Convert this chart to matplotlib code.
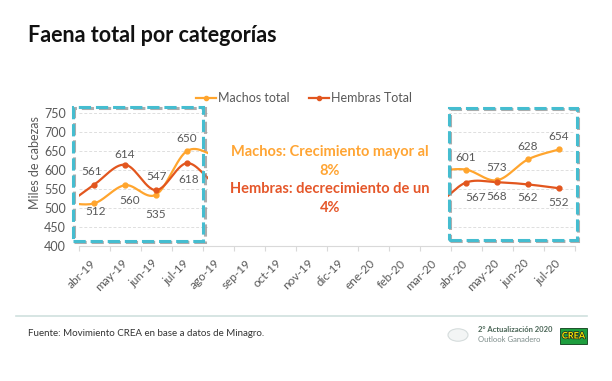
import numpy as np
import matplotlib
matplotlib.use("Agg")
import matplotlib.pyplot as plt
from matplotlib.patches import Rectangle, Circle
from matplotlib.lines import Line2D
import matplotlib.patheffects as pe

plt.rcParams['font.family'] = ['Lato', 'DejaVu Sans']

months = ['abr-19', 'may-19', 'jun-19', 'jul-19', 'ago-19', 'sep-19', 'oct-19', 'nov-19',
          'dic-19', 'ene-20', 'feb-20', 'mar-20', 'abr-20', 'may-20', 'jun-20', 'jul-20']

# visible values (the rest of the year is hidden behind the text box)
machos_19 = [512, 560, 535, 650]      # abr-19 .. jul-19
hembras_19 = [561, 614, 547, 618]
machos_20 = [601, 573, 628, 654]      # abr-20 .. jul-20
hembras_20 = [567, 568, 562, 552]

# estimated neighbours behind the mask (only shape the curve ends)
machos_mar19, machos_ago19, machos_sep19 = 516, 635, 620
hembras_mar19, hembras_ago19, hembras_sep19 = 502, 560, 570
machos_feb20, machos_mar20 = 598, 598
hembras_feb20, hembras_mar20 = 509, 509

ORANGE = '#FFA52E'
RED = '#E2561E'
GREY = '#595959'
CYAN = '#45BDD0'


def smooth(xs, ys, n=30):
    # excel-like smoothed line (catmull-rom as bezier)
    xs = np.asarray(xs, float)
    ys = np.asarray(ys, float)
    px, py = [], []
    m = len(xs)
    for i in range(m - 1):
        i0 = max(i - 1, 0)
        i3 = min(i + 2, m - 1)
        p0 = np.array([xs[i0], ys[i0]])
        p1 = np.array([xs[i], ys[i]])
        p2 = np.array([xs[i + 1], ys[i + 1]])
        p3 = np.array([xs[i3], ys[i3]])
        c1 = p1 + (p2 - p0) / 6
        c2 = p2 - (p3 - p1) / 6
        t = np.linspace(0, 1, n)[:, None]
        b = ((1 - t) ** 3) * p1 + 3 * ((1 - t) ** 2) * t * c1 + 3 * (1 - t) * t ** 2 * c2 + t ** 3 * p2
        px.extend(b[:, 0])
        py.extend(b[:, 1])
    return px, py


W, H = 612, 381
fig = plt.figure(figsize=(W / 100, H / 100), dpi=100)
fig.patch.set_facecolor('white')

ax = fig.add_axes([78.5 / W, 1 - 246 / H, 496 / W, 133 / H])
ax.set_xlim(-0.5, 15.5)
ax.set_ylim(400, 750)

x19 = np.arange(-1, 6)
x20 = np.arange(10, 16)
series = [
    (ORANGE, [machos_mar19] + machos_19 + [machos_ago19, machos_sep19], [machos_feb20, machos_mar20] + machos_20),
    (RED, [hembras_mar19] + hembras_19 + [hembras_ago19, hembras_sep19], [hembras_feb20, hembras_mar20] + hembras_20),
]
for col, left, right in series:
    sx, sy = smooth(x19, left)
    ax.plot(sx, sy, color=col, lw=1.6, zorder=2, solid_capstyle='round')
    sx, sy = smooth(x20, right)
    ax.plot(sx, sy, color=col, lw=1.6, zorder=2, solid_capstyle='round')

ax.plot(range(0, 4), machos_19, 'o', color=ORANGE, ms=3.5, zorder=2)
ax.plot(range(12, 16), machos_20, 'o', color=ORANGE, ms=3.5, zorder=2)
ax.plot(range(0, 4), hembras_19, 'o', color=RED, ms=3.5, zorder=2)
ax.plot(range(12, 16), hembras_20, 'o', color=RED, ms=3.5, zorder=2)

# white text box hiding the middle months
ax.add_patch(Rectangle((3.68, 402), 11.42 - 3.68, 400, facecolor='white', edgecolor='none', zorder=3))

# data labels, offsets in points
m_off = [(1, -6), (3, -11), (0, -14), (0, 9), (0, 9), (0, 9.5), (0, 9), (0, 9.5)]
h_off = [(-1.5, 9.5), (0, 7), (0.5, 10), (1, -11.5), (7, -10.5), (0, -10), (0, -9.5), (0, -10)]
for xs, vals, offs in [(range(0, 4), machos_19, m_off[:4]), (range(12, 16), machos_20, m_off[4:]),
                       (range(0, 4), hembras_19, h_off[:4]), (range(12, 16), hembras_20, h_off[4:])]:
    for x, v, o in zip(xs, vals, offs):
        ax.annotate(str(v), (x, v), xytext=o, textcoords='offset points', ha='center', va='center',
                    fontsize=8.5, color=GREY, zorder=6)

# dashed highlight boxes
for x0, x1, y0, y1 in [(-0.68, 3.52, 413, 766), (11.45, 15.58, 416, 763)]:
    r = Rectangle((x0, y0), x1 - x0, y1 - y0, fill=False, edgecolor=CYAN, lw=2.2,
                  linestyle=(0, (4, 1.6)), clip_on=False, zorder=5)
    r.set_path_effects([pe.SimpleLineShadow(offset=(1, -1), shadow_color='#8a8a8a', alpha=0.7), pe.Normal()])
    ax.add_patch(r)

ax.set_yticks(range(400, 751, 50))
ax.set_xticks(range(len(months)))
ax.set_xticklabels(months, rotation=45, ha='right', va='center', rotation_mode='anchor')
ax.set_xticks(np.arange(-0.5, 16, 1), minor=True)
ax.tick_params(axis='x', which='major', length=0, pad=11, labelsize=8.5, labelcolor=GREY)
ax.tick_params(axis='x', which='minor', length=3.5, color='#d9d9d9', width=0.8)
ax.tick_params(axis='y', length=0, pad=9, labelsize=9, labelcolor=GREY)
for y in range(450, 751, 50):
    ax.axhline(y, color='#dedede', lw=0.7, linestyle=(0, (3, 2)), zorder=1)
for s in ['top', 'right', 'left']:
    ax.spines[s].set_visible(False)
ax.spines['bottom'].set_color('#d9d9d9')
ax.spines['bottom'].set_linewidth(0.8)

fig.text(35 / W, 1 - 163 / H, 'Miles de cabezas', rotation=90, ha='center', va='center',
         fontsize=9, color=GREY)

handles = [Line2D([], [], color=ORANGE, lw=1.6, marker='o', ms=3),
           Line2D([], [], color=RED, lw=1.6, marker='o', ms=3)]
fig.legend(handles, ['Machos total', 'Hembras Total'], loc='center', bbox_to_anchor=(304 / W, 1 - 98 / H),
           ncol=2, frameon=False, fontsize=9, handlelength=1.6, handletextpad=0.2, columnspacing=1.5,
           labelcolor=GREY)

# annotation text in the middle
fig.text(330 / W, 1 - 152 / H, 'Machos: Crecimiento mayor al', ha='center', va='center',
         fontsize=10.5, weight='bold', color='#FFA534')
fig.text(330 / W, 1 - 171 / H, '8%', ha='center', va='center', fontsize=10.5, weight='bold', color='#FFA534')
fig.text(330 / W, 1 - 189 / H, 'Hembras: decrecimiento de un', ha='center', va='center',
         fontsize=10.5, weight='bold', color='#E5572A')
fig.text(330 / W, 1 - 208 / H, '4%', ha='center', va='center', fontsize=10.5, weight='bold', color='#E5572A')

# title
fig.text(28 / W, 1 - 35 / H, 'Faena total por categorías', ha='left', va='center',
         fontsize=15.5, weight='bold', color='#111111')

# footer
fig.add_artist(Line2D([16 / W, 587 / W], [1 - 316 / H, 1 - 316 / H], color='#cfe0de', lw=1.2,
                      transform=fig.transFigure))
fig.text(28 / W, 1 - 333 / H, 'Fuente: Movimiento CREA en base a datos de Minagro.', ha='left', va='center',
         fontsize=7, color='#333333')
fig.add_artist(Circle((458 / W, 1 - 335 / H), 10 / W, transform=fig.transFigure,
                      facecolor='#f3f5f5', edgecolor='#d5dcdc', lw=0.8))
fig.text(478 / W, 1 - 330 / H, '2° Actualización 2020', ha='left', va='center', fontsize=5.5,
         weight='bold', color='#4b6657')
fig.text(478 / W, 1 - 339 / H, 'Outlook Ganadero', ha='left', va='center', fontsize=5.5, color='#7d8c8a')
fig.add_artist(Rectangle((560 / W, 1 - 344 / H), 27 / W, 16 / H, transform=fig.transFigure,
                         facecolor='#1e9e3e', edgecolor='#0b3d18', lw=0.6))
fig.text(573.5 / W, 1 - 336 / H, 'CREA', ha='center', va='center', fontsize=6.5, weight='bold',
         color='#f2e600', path_effects=[pe.withStroke(linewidth=1, foreground='#222222')])

fig.savefig('out.png', dpi=100)
